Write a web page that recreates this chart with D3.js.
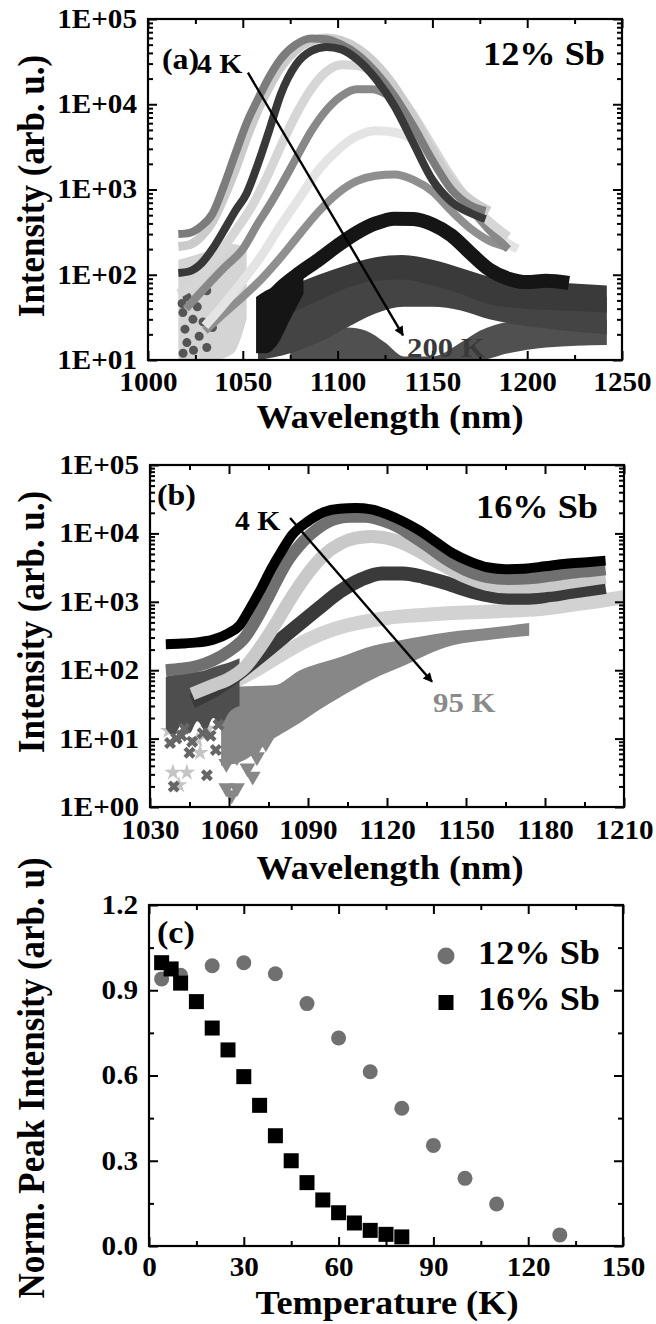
<!DOCTYPE html>
<html>
<head>
<meta charset="utf-8">
<script src="https://cdn.jsdelivr.net/npm/d3@7"></script>
<style>
  html, body { margin: 0; padding: 0; background: #fff; }
  svg text { font-family: "Liberation Serif", "Times New Roman", Times, serif !important; font-weight: bold; }
</style>
</head>
<body>
<svg id="fig" width="656" height="1324"></svg>
<script>
// ---------------- (a) 12% Sb : PL spectra, [wavelength nm, intensity] ----------------
const a12_s1 = [[1016,300],[1022,310],[1028,370],[1034,520],[1040,1100],[1046,2600],[1052,6000],[1058,11500],[1064,21000],[1070,34000],[1078,50000],[1086,59000],[1094,58000],[1102,50000],[1110,39000],[1120,24000],[1130,12500],[1140,5500],[1150,2200],[1160,1000],[1170,650],[1178,560]];
const a12_s2 = [[1016,215],[1022,225],[1028,280],[1034,420],[1040,800],[1046,1700],[1052,4000],[1058,8500],[1064,16000],[1070,27000],[1078,43000],[1086,55000],[1094,60000],[1102,56000],[1110,46000],[1120,30000],[1130,16000],[1140,7000],[1150,2800],[1160,1250],[1170,760],[1180,560]];
const a12_s3 = [[1016,105],[1022,110],[1028,135],[1034,200],[1040,330],[1046,560],[1052,900],[1058,2000],[1064,5000],[1070,13000],[1078,29000],[1086,42000],[1094,47000],[1102,44000],[1110,34000],[1120,20000],[1130,9500],[1140,3500],[1150,1300],[1160,720],[1170,530],[1178,450]];
const a12_s4 = [[1016,60],[1025,80],[1035,150],[1045,300],[1055,650],[1062,1300],[1070,3200],[1078,7500],[1086,15000],[1094,24000],[1102,29000],[1110,28500],[1120,23000],[1130,15000],[1140,7500],[1150,3200],[1160,1400],[1170,700],[1180,420],[1190,280]];
const a12_s5 = [[1020,40],[1030,70],[1040,120],[1050,200],[1058,400],[1064,650],[1070,1100],[1078,2300],[1086,4800],[1094,8500],[1102,12500],[1110,15000],[1118,15000],[1126,13000],[1134,9500],[1142,5500],[1150,2800],[1158,1500],[1166,850],[1174,480],[1182,300],[1190,200]];
const a12_s6 = [[1030,25],[1040,45],[1050,85],[1060,170],[1070,380],[1080,800],[1090,1700],[1100,2900],[1110,4200],[1120,4900],[1130,4700],[1140,3800],[1150,2300],[1160,1200],[1170,600],[1180,350],[1190,230],[1195,200]];
const a12_s7 = [[1030,22],[1040,35],[1050,55],[1060,90],[1070,160],[1080,300],[1090,550],[1100,900],[1110,1250],[1120,1450],[1130,1500],[1140,1300],[1150,950],[1160,560],[1170,350],[1180,250],[1190,210]];
const a12_s8 = [[1062,45],[1070,70],[1080,105],[1090,150],[1100,220],[1110,310],[1120,400],[1130,455],[1140,450],[1150,390],[1160,290],[1170,180],[1180,115],[1190,90],[1200,82],[1210,85],[1222,80]];
// noisy high-temperature spectra: wavelength with lower / upper intensity envelope
const a12_n1_wl = [1060,1075,1090,1105,1120,1134,1150,1165,1180,1200,1220,1242];
const a12_n1_lo = [25,35,50,70,85,88,75,60,45,40,38,36];
const a12_n1_hi = [60,75,100,130,160,170,150,120,95,85,80,75];
const a12_n2_wl = [1058,1075,1090,1105,1120,1135,1150,1165,1180,1200,1220,1242];
const a12_n2_lo = [10,12,16,24,35,42,42,38,30,25,22,20];
const a12_n2_hi = [30,40,55,75,90,95,90,80,70,60,58,55];
const a12_n3_wl = [1075,1090,1105,1115,1125,1135,1150,1165,1175,1190,1210,1242];
const a12_n3_lo = [10,10,10,10,10,10,10,10,10,12,14,15];
const a12_n3_hi = [14,20,24,22,16,11,11,16,22,28,30,30];
const a12_n8_wl = [1057,1062,1068,1075,1082];
const a12_n8_lo = [12,12,15,30,60];
const a12_n8_hi = [55,65,75,85,100];
const a12_low_wl = [1016,1025,1035,1045,1052];
const a12_low_lo = [10,10,10,12,30];
const a12_low_hi = [150,170,200,230,200];
const a12_dots = [[1018.4,36],[1023.7,30],[1019.5,23],[1027,19],[1020.5,16],[1031,14],[1018.5,12],[1034,24],[1026,42],[1031,65],[1020.6,55],[1018,46],[1024,13],[1029,28]];

// ---------------- (b) 16% Sb : PL spectra ----------------
const b16_s1 = [[1036,240],[1042,245],[1048,255],[1054,280],[1060,350],[1064,450],[1068,800],[1072,1500],[1076,3000],[1080,5500],[1084,9500],[1090,15000],[1096,20500],[1102,23000],[1108,23500],[1114,22500],[1120,19000],[1126,15000],[1132,11200],[1138,7800],[1145,5100],[1152,3800],[1158,3200],[1165,3000],[1172,3050],[1180,3300],[1188,3600],[1196,3800],[1203,4000]];
const b16_s2 = [[1036,100],[1042,105],[1048,115],[1054,140],[1060,190],[1066,300],[1070,520],[1074,1000],[1078,2000],[1082,3800],[1088,7500],[1094,12000],[1100,16000],[1106,17500],[1112,17500],[1118,15500],[1124,12500],[1130,9000],[1136,6300],[1142,4300],[1150,2900],[1158,2300],[1166,2150],[1174,2200],[1182,2400],[1190,2650],[1198,2850],[1203,3000]];
const b16_s3 = [[1046,45],[1054,60],[1060,75],[1066,110],[1072,220],[1078,500],[1084,1200],[1090,2600],[1096,4800],[1102,7000],[1108,8500],[1114,9000],[1120,8500],[1126,7200],[1132,5500],[1138,4000],[1144,3000],[1150,2300],[1158,1800],[1166,1650],[1174,1650],[1182,1750],[1190,1950],[1198,2150],[1203,2300]];
const b16_s4 = [[1046,35],[1054,50],[1062,80],[1070,140],[1078,250],[1086,450],[1094,800],[1102,1400],[1110,2100],[1118,2600],[1126,2600],[1134,2300],[1142,1900],[1150,1500],[1158,1250],[1166,1150],[1174,1150],[1182,1250],[1190,1400],[1198,1550],[1203,1650]];
const b16_s5 = [[1058,60],[1064,75],[1072,110],[1080,170],[1090,280],[1100,400],[1110,500],[1120,580],[1130,630],[1140,670],[1150,700],[1160,720],[1170,750],[1180,800],[1190,900],[1200,1020],[1212,1200]];
const b16_s6_wl = [1057,1064,1077,1087,1094,1102,1115,1125,1143,1160,1174];
const b16_s6_lo = [4,4.5,10,17,26,40,75,110,220,280,320];
const b16_s6_hi = [55,58,60,100,125,155,230,275,360,420,490];
const b16_n4_wl = [1036,1039,1042,1045,1048,1051,1054,1057,1060,1064];
const b16_n4_lo = [14,11,16,12,18,13,20,16,24,30];
const b16_n4_hi = [80,85,88,92,95,100,110,120,130,150];
const b16_stars = [[1038.7,3.2],[1044,3.2],[1049,6.2],[1041,2.1],[1048,9.6],[1037,13],[1052,14]];
const b16_crosses = [[1039,2.0],[1051.6,2.9],[1045,6.2],[1055,6.8],[1037.6,8.6],[1042,11],[1050,12],[1040,10],[1046,9],[1053,11],[1056,16],[1043,14]];
const b16_tris = [[1059,1.9],[1063,1.9],[1067,3.7],[1069,2.8],[1070.6,5.4],[1070.6,7.5],[1063,5.4],[1067,7.5],[1074,8.6],[1059,4.3],[1079,15],[1061,1.5]];

// ---------------- (c) normalised peak intensity vs temperature ----------------
const tempSb12 = [4,10,20,30,40,50,60,70,80,90,100,110,130];
const peakSb12 = [0.94,0.953,0.986,0.997,0.958,0.853,0.732,0.613,0.485,0.354,0.238,0.148,0.039];
const tempSb16 = [4,7,10,15,20,25,30,35,40,45,50,55,60,65,70,75,80];
const peakSb16 = [0.997,0.975,0.925,0.86,0.767,0.69,0.596,0.495,0.388,0.30,0.223,0.162,0.117,0.081,0.055,0.041,0.032];

// tick values
const ticksWlA = [1000,1050,1100,1150,1200,1250];
const ticksWlAMinor = [1025,1075,1125,1175,1225];
const ticksWlB = [1030,1060,1090,1120,1150,1180,1210];
const ticksWlBMinor = [1045,1075,1105,1135,1165,1195];
const ticksT = [0,30,60,90,120,150];
const ticksTMinor = [15,45,75,105,135];
const ticksNorm = [0,0.3,0.6,0.9,1.2];
const ticksNormMinor = [0.15,0.45,0.75,1.05];

// ------------------------------------------------------------------
const svg = d3.select('#fig');
const SX = 1.1;   // glyph widening applied to every label

const pA = {x0:148, x1:622, y0:19,  y1:360};
const pB = {x0:150, x1:624, y0:465, y1:807};
const pC = {x0:149, x1:623, y0:905, y1:1246};

const xA = d3.scaleLinear([1000,1250],[pA.x0,pA.x1]);
const yA = d3.scaleLog([10,1e5],[pA.y1,pA.y0]);
const xB = d3.scaleLinear([1030,1210],[pB.x0,pB.x1]);
const yB = d3.scaleLog([1,1e5],[pB.y1,pB.y0]);
const xC = d3.scaleLinear([0,150],[pC.x0,pC.x1]);
const yC = d3.scaleLinear([0,1.2],[pC.y1,pC.y0]);

function logMinor(lo, hi) {
  const out = [];
  for (let e = lo; e < hi; e++) for (let k = 2; k <= 9; k++) out.push(k * Math.pow(10, e));
  return out;
}
function logMajor(lo, hi) { return d3.range(lo, hi + 1).map(e => Math.pow(10, e)); }
const sci = d => '1E+' + String(Math.round(Math.log10(d))).padStart(2, '0');

const defs = svg.append('defs');
function clipFor(id, p) {
  defs.append('clipPath').attr('id', id).append('rect')
    .attr('x', p.x0).attr('y', p.y0).attr('width', p.x1 - p.x0).attr('height', p.y1 - p.y0);
  return svg.append('g').attr('clip-path', `url(#${id})`);
}
defs.append('marker').attr('id', 'head').attr('viewBox', '0 0 10 10')
  .attr('refX', 9).attr('refY', 5).attr('markerWidth', 5).attr('markerHeight', 4)
  .attr('markerUnits', 'strokeWidth').attr('orient', 'auto')
  .append('path').attr('d', 'M0,0 L10,5 L0,10 Z').attr('fill', '#000');

function label(txt, x, y, size, anchor, fill) {
  return svg.append('text').attr('transform', `translate(${x},${y}) scale(${SX},1)`)
    .attr('font-size', size).attr('text-anchor', anchor || 'start').attr('fill', fill || '#000').text(txt);
}
function yTitle(txt, x, y, size) {
  return svg.append('text').attr('transform', `translate(${x},${y}) rotate(-90) scale(1,${SX})`)
    .attr('font-size', size).attr('text-anchor', 'middle').attr('fill', '#000').text(txt);
}

function axes(p, x, y, o) {
  const g = svg.append('g');
  const put = (axis, tx, ty) => g.append('g').attr('transform', `translate(${tx},${ty})`)
    .call(axis).call(s => s.select('.domain').remove());
  const xl = put(d3.axisBottom(x).tickValues(o.xMajor).tickSizeInner(-9).tickSizeOuter(0).tickPadding(o.xPad).tickFormat(o.xFmt), 0, p.y1);
  put(d3.axisBottom(x).tickValues(o.xMinor).tickSizeInner(-5).tickSizeOuter(0).tickFormat(''), 0, p.y1);
  put(d3.axisTop(x).tickValues(o.xMajor).tickSizeInner(-9).tickSizeOuter(0).tickFormat(''), 0, p.y0);
  put(d3.axisTop(x).tickValues(o.xMinor).tickSizeInner(-5).tickSizeOuter(0).tickFormat(''), 0, p.y0);
  const yl = put(d3.axisLeft(y).tickValues(o.yMajor).tickSizeInner(-9).tickSizeOuter(0).tickPadding(10).tickFormat(o.yFmt), p.x0, 0);
  put(d3.axisLeft(y).tickValues(o.yMinor).tickSizeInner(-5).tickSizeOuter(0).tickFormat(''), p.x0, 0);
  put(d3.axisRight(y).tickValues(o.yMajor).tickSizeInner(-9).tickSizeOuter(0).tickFormat(''), p.x1, 0);
  put(d3.axisRight(y).tickValues(o.yMinor).tickSizeInner(-5).tickSizeOuter(0).tickFormat(''), p.x1, 0);
  g.selectAll('.tick line').attr('stroke', '#000').attr('stroke-width', 2);
  [xl, yl].forEach(s => s.selectAll('text').attr('font-size', 26.5).attr('fill', '#000')
    .attr('transform', `scale(${SX},1)`));
  svg.append('rect').attr('x', p.x0).attr('y', p.y0).attr('width', p.x1 - p.x0).attr('height', p.y1 - p.y0)
    .attr('fill', 'none').attr('stroke', '#000').attr('stroke-width', 2.2);
}

function spectrum(g, data, x, y, color, w) {
  g.append('path').datum(data)
    .attr('d', d3.line().x(d => x(d[0])).y(d => y(d[1])).curve(d3.curveMonotoneX))
    .attr('fill', 'none').attr('stroke', color).attr('stroke-width', w)
    .attr('stroke-linejoin', 'round').attr('stroke-linecap', 'butt');
}
function band(g, wl, lo, hi, x, y, color) {
  const rows = wl.map((w, i) => [w, lo[i], hi[i]]);
  g.append('path').datum(rows)
    .attr('d', d3.area().x(d => x(d[0])).y0(d => y(d[1])).y1(d => y(d[2])).curve(d3.curveMonotoneX))
    .attr('fill', color);
}
function arrow(x, y, from, to) {
  svg.append('line').attr('x1', x(from[0])).attr('y1', y(from[1]))
    .attr('x2', x(to[0])).attr('y2', y(to[1]))
    .attr('stroke', '#000').attr('stroke-width', 2.4).attr('marker-end', 'url(#head)');
}

// ---------------- panel (a) ----------------
const gA = clipFor('clipA', pA);
band(gA, a12_low_wl, a12_low_lo, a12_low_hi, xA, yA, '#d4d4d4');
gA.selectAll('circle.dot').data(a12_dots).join('circle')
  .attr('cx', d => xA(d[0])).attr('cy', d => yA(d[1])).attr('r', 4.5).attr('fill', '#555');
band(gA, a12_n3_wl, a12_n3_lo, a12_n3_hi, xA, yA, '#505050');
band(gA, a12_n2_wl, a12_n2_lo, a12_n2_hi, xA, yA, '#444444');
band(gA, a12_n1_wl, a12_n1_lo, a12_n1_hi, xA, yA, '#3a3a3a');
band(gA, a12_n8_wl, a12_n8_lo, a12_n8_hi, xA, yA, '#151515');
spectrum(gA, a12_s8, xA, yA, '#151515', 14);
spectrum(gA, a12_s7, xA, yA, '#8f8f8f', 8);
spectrum(gA, a12_s6, xA, yA, '#e4e4e4', 9);
spectrum(gA, a12_s5, xA, yA, '#888888', 8);
spectrum(gA, a12_s4, xA, yA, '#d6d6d6', 9);
spectrum(gA, a12_s2, xA, yA, '#cbcbcb', 9);
spectrum(gA, a12_s1, xA, yA, '#7c7c7c', 8);
spectrum(gA, a12_s3, xA, yA, '#383838', 8);
axes(pA, xA, yA, {xMajor: ticksWlA, xMinor: ticksWlAMinor, yMajor: logMajor(1,5), yMinor: logMinor(1,5),
  xFmt: d3.format('d'), yFmt: sci, xPad: 12});
arrow(xA, yA, [1052.7, Math.pow(10,4.37)], [1134.5, Math.pow(10,1.29)]);
label('(a)', pA.x0 + 14, pA.y0 + 50, 29);
label('4 K', pA.x0 + 49, pA.y0 + 54, 27);
label('12% Sb', pA.x1 - 17, pA.y0 + 46, 33, 'end');
label('200 K', pA.x0 + 259, pA.y1 - 3, 28, 'start', '#3a3a3a');
label('Wavelength (nm)', (pA.x0 + pA.x1) / 2 + 5, pA.y1 + 68, 33, 'middle');
yTitle('Intensity (arb. u.)', 44, 186, 35);

// ---------------- panel (b) ----------------
const gB = clipFor('clipB', pB);
band(gB, b16_s6_wl, b16_s6_lo, b16_s6_hi, xB, yB, '#878787');
gB.selectAll('path.tri').data(b16_tris).join('path')
  .attr('transform', d => `translate(${xB(d[0])},${yB(d[1])}) rotate(180)`)
  .attr('d', d3.symbol(d3.symbolTriangle, 110)).attr('fill', '#878787');
gB.selectAll('path.star').data(b16_stars).join('path')
  .attr('transform', d => `translate(${xB(d[0])},${yB(d[1])})`)
  .attr('d', d3.symbol(d3.symbolStar, 90)).attr('fill', '#c4c4c4');
spectrum(gB, b16_s5, xB, yB, '#d2d2d2', 14);
band(gB, b16_n4_wl, b16_n4_lo, b16_n4_hi, xB, yB, '#4e4e4e');
gB.selectAll('path.cross').data(b16_crosses).join('path')
  .attr('transform', d => `translate(${xB(d[0])},${yB(d[1])}) rotate(45)`)
  .attr('d', d3.symbol(d3.symbolCross, 90)).attr('fill', '#666666');
spectrum(gB, b16_s4, xB, yB, '#3a3a3a', 14);
spectrum(gB, b16_s3, xB, yB, '#c9c9c9', 13);
spectrum(gB, b16_s2, xB, yB, '#707070', 12);
spectrum(gB, b16_s1, xB, yB, '#000000', 10);
axes(pB, xB, yB, {xMajor: ticksWlB, xMinor: ticksWlBMinor, yMajor: logMajor(0,5), yMinor: logMinor(0,5),
  xFmt: d3.format('d'), yFmt: sci, xPad: 13});
arrow(xB, yB, [1083.2, Math.pow(10,4.225)], [1137.1, Math.pow(10,1.83)]);
label('(b)', pB.x0 + 7, pB.y0 + 40, 29);
label('4 K', pB.x0 + 85, pB.y0 + 65, 27);
label('16% Sb', pB.x1 - 26, pB.y0 + 53, 33, 'end');
label('95 K', pB.x0 + 283, pB.y0 + 247, 28, 'start', '#8a8a8a');
label('Wavelength (nm)', (pB.x0 + pB.x1) / 2 + 3, pB.y1 + 72, 33, 'middle');
yTitle('Intensity (arb. u.)', 44, 622, 35);

// ---------------- panel (c) ----------------
const sb12 = tempSb12.map((t, i) => [t, peakSb12[i]]);
const sb16 = tempSb16.map((t, i) => [t, peakSb16[i]]);
axes(pC, xC, yC, {xMajor: ticksT, xMinor: ticksTMinor, yMajor: ticksNorm, yMinor: ticksNormMinor,
  xFmt: d3.format('d'), yFmt: d3.format('.1f'), xPad: 11});
svg.append('g').selectAll('circle').data(sb12).join('circle')
  .attr('cx', d => xC(d[0])).attr('cy', d => yC(d[1])).attr('r', 7.5).attr('fill', '#707070');
svg.append('g').selectAll('rect').data(sb16).join('rect')
  .attr('x', d => xC(d[0]) - 7.5).attr('y', d => yC(d[1]) - 7.5).attr('width', 15).attr('height', 15).attr('fill', '#000');
// legend
svg.append('circle').attr('cx', pC.x1 - 177).attr('cy', pC.y0 + 51).attr('r', 8.5).attr('fill', '#707070');
svg.append('rect').attr('x', pC.x1 - 184.5).attr('y', pC.y0 + 90).attr('width', 15).attr('height', 15).attr('fill', '#000');
label('12% Sb', pC.x1 - 145, pC.y0 + 59, 33);
label('16% Sb', pC.x1 - 145, pC.y0 + 105, 33);
label('(c)', pC.x0 + 8, pC.y0 + 38, 31);
label('Temperature (K)', (pC.x0 + pC.x1) / 2 + 1, pC.y1 + 68, 33, 'middle');
yTitle('Norm. Peak Intensity (arb. u)', 44, 1078, 35);
</script>
</body>
</html>
